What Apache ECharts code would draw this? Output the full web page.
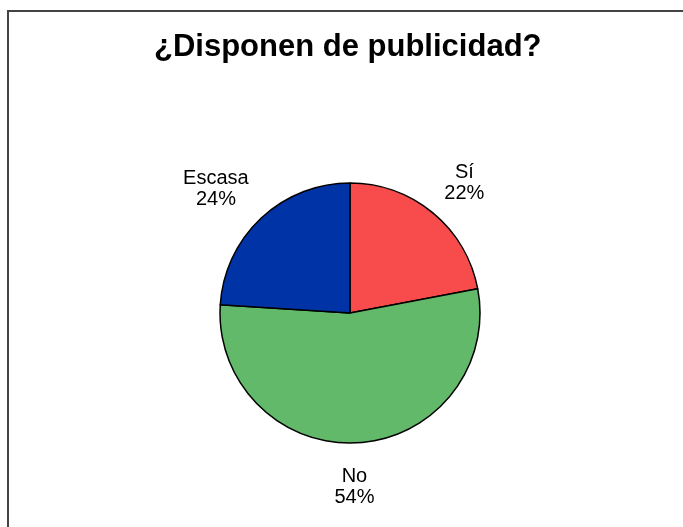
<!DOCTYPE html>
<html>
<head>
<meta charset="utf-8">
<script src="https://cdn.jsdelivr.net/npm/echarts@6/dist/echarts.min.js"></script>
<style>
  html, body { margin: 0; padding: 0; background: #fff; overflow: hidden; }
  #frame { position: absolute; left: 7px; top: 10px; width: 720px; height: 560px;
           border-left: 2px solid #444; border-top: 2px solid #444; }
  #chart { position: absolute; left: 0; top: 0; width: 683px; height: 527px; }
</style>
</head>
<body>
<div id="frame"></div>
<div id="chart"></div>
<script>
const titleText = '¿Disponen de publicidad?';
const categories = ['Sí', 'No', 'Escasa'];
const values = [22, 54, 24];
const colors = ['#F84B4B', '#62B96A', '#0033A6'];

const CX = 350, CY = 313, PIE_R = 130, LABEL_R = 148, LABEL_DY = 5, START = 90;
const total = values.reduce((a, b) => a + b, 0);
const cum = [];
values.reduce((s, v) => { cum.push(s); return s + v; }, 0);

const chart = echarts.init(document.getElementById('chart'), null, { renderer: 'canvas' });
chart.setOption({
  animation: false,
  backgroundColor: 'transparent',
  title: {
    text: titleText,
    left: 149,
    top: 27,
    textStyle: { fontFamily: 'Liberation Sans', fontWeight: 'bold', fontSize: 31, color: '#000' }
  },
  series: [{
    type: 'pie',
    center: [CX, CY],
    radius: PIE_R,
    startAngle: START,
    clockwise: true,
    data: categories.map((c, i) => ({ name: c, value: values[i], itemStyle: { color: colors[i] } })),
    itemStyle: { borderColor: '#000', borderWidth: 1.5 },
    label: {
      show: true,
      position: 'outside',
      formatter: p => p.name + '\n' + p.value + '%',
      fontFamily: 'Liberation Sans',
      fontSize: 20,
      lineHeight: 21,
      color: '#000',
      align: 'center'
    },
    labelLine: { show: false },
    labelLayout: function (p) {
      const i = p.dataIndex;
      const ang = (START - (cum[i] + values[i] / 2) / total * 360) * Math.PI / 180;
      const ux = Math.cos(ang), uy = -Math.sin(ang);
      const a = p.labelRect.width / 2, b = p.labelRect.height / 2;
      const kx = Math.max(-1, Math.min(1, ux / 0.5));
      const ky = Math.max(-1, Math.min(1, uy / 0.5));
      const fx = Math.min(1, Math.abs(ux) / 0.3);
      return {
        x: CX + ux * LABEL_R * fx + kx * a,
        y: CY + uy * LABEL_R + ky * b + LABEL_DY,
        align: 'center',
        verticalAlign: 'middle'
      };
    },
    emphasis: { disabled: true }
  }]
});
</script>
</body>
</html>
